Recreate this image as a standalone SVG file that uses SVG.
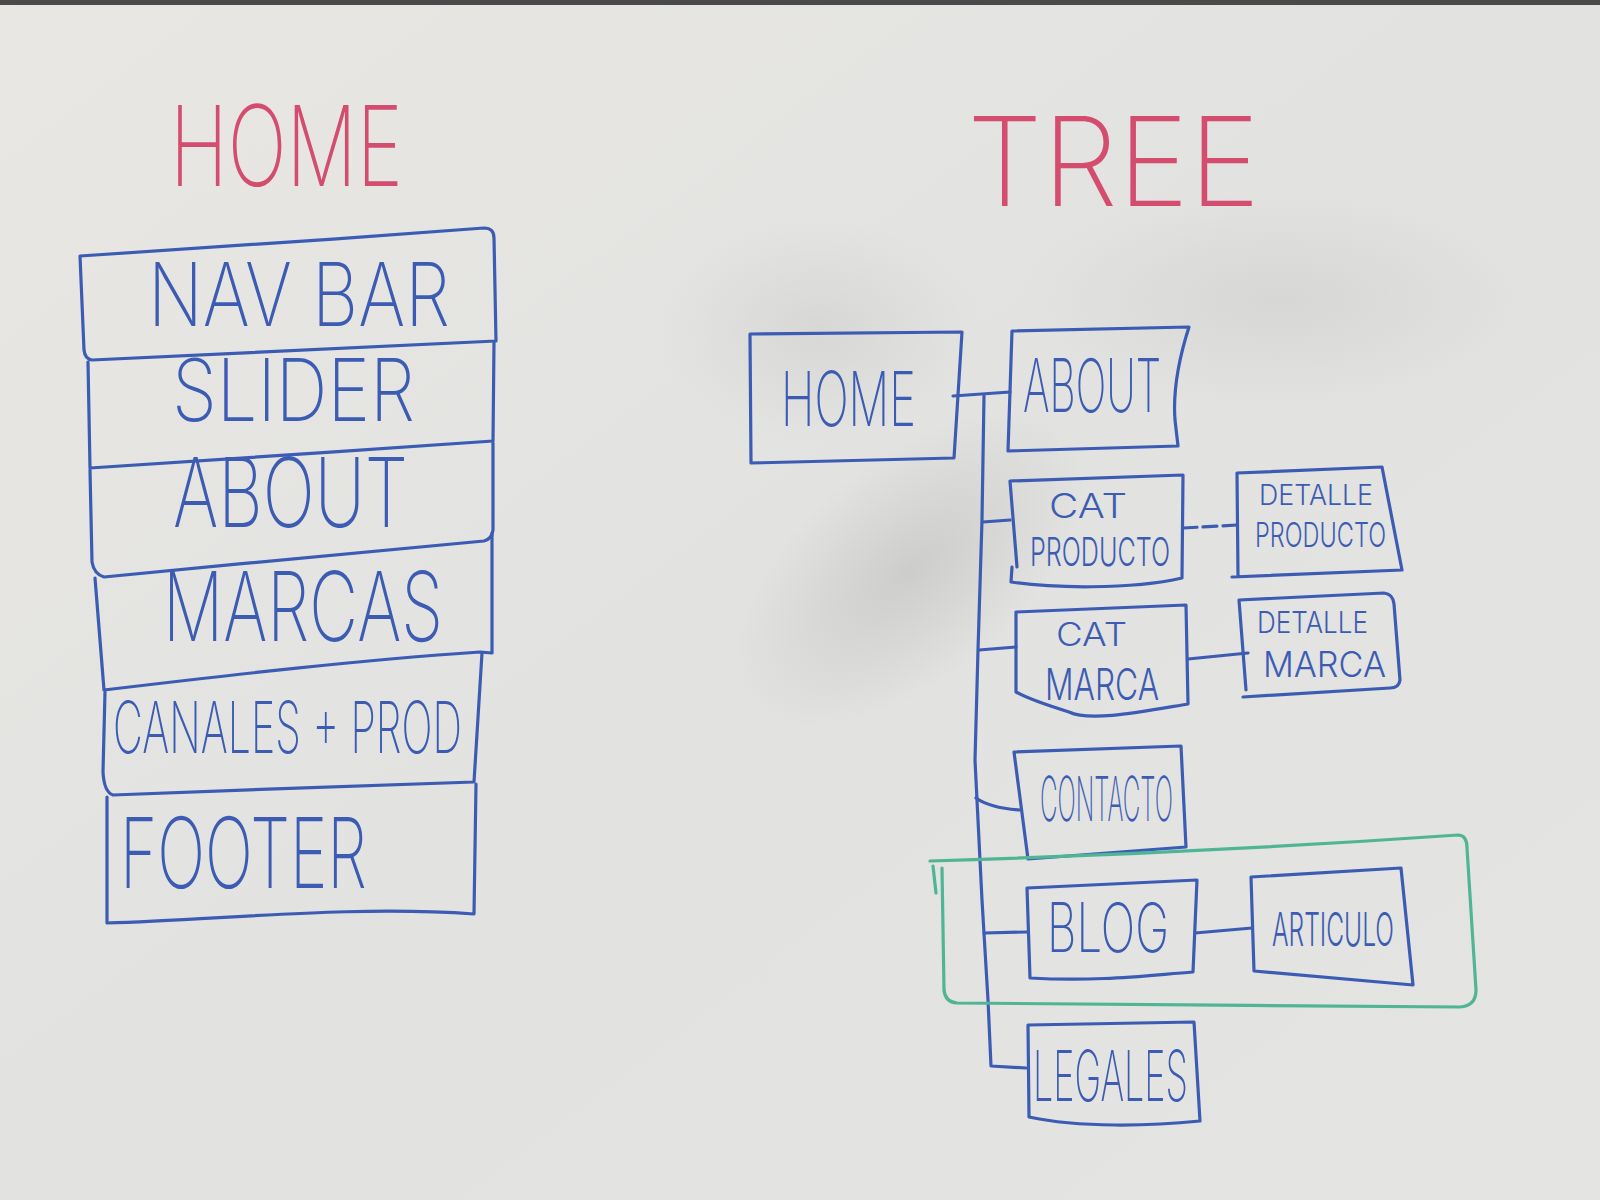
<svg xmlns="http://www.w3.org/2000/svg" width="1600" height="1200" viewBox="0 0 1600 1200">
  <defs>
    <linearGradient id="board" x1="0" y1="0" x2="1" y2="1">
      <stop offset="0" stop-color="#e8e7e4"/>
      <stop offset="0.5" stop-color="#e2e2e0"/>
      <stop offset="1" stop-color="#e4e4e2"/>
    </linearGradient>
    <radialGradient id="smudge">
      <stop offset="0" stop-color="#c9c9c8" stop-opacity="0.85"/>
      <stop offset="1" stop-color="#c9c9c8" stop-opacity="0"/>
    </radialGradient>
    <radialGradient id="smudgeLight">
      <stop offset="0" stop-color="#d3d3d2" stop-opacity="0.75"/>
      <stop offset="1" stop-color="#d3d3d2" stop-opacity="0"/>
    </radialGradient>
    <style>
      .ink { fill: none; stroke: #3c5cb4; stroke-width: 3.2; stroke-linecap: round; stroke-linejoin: round; }
      .group { fill: none; stroke: #4fb595; stroke-width: 3.2; stroke-linecap: round; stroke-linejoin: round; }
      .dash { stroke-dasharray: 14 6; }
      .hand { font-family: Inter, Lato, "Liberation Sans", sans-serif; font-weight: 200; fill: #3c5cb4; }
      .small { font-weight: 300; }
      .title { font-family: Inter, Lato, "Liberation Sans", sans-serif; font-weight: 200; fill: #d44d6e; }
    </style>
  </defs>

  <!-- whiteboard surface -->
  <rect x="0" y="0" width="1600" height="1200" fill="url(#board)"/>
  <ellipse cx="910" cy="570" rx="210" ry="110" fill="url(#smudge)" transform="rotate(-40 910 570)"/>
  <ellipse cx="1280" cy="300" rx="260" ry="110" fill="url(#smudgeLight)"/>
  <ellipse cx="820" cy="330" rx="160" ry="110" fill="url(#smudgeLight)"/>
  <rect x="0" y="0" width="1600" height="5" fill="#4a4a4a"/>

  <!-- left column: page layout -->
  <g id="home-title">
    <text class="title" x="170" y="186" font-size="112" textLength="233" lengthAdjust="spacingAndGlyphs">HOME</text>
  </g>
  <g id="navbar">
    <path class="ink" d="M80,256 C210,248 350,238 484,228 Q494,228 494,238 L496,341 L92,360 Q85,359 84,350 Z"/>
    <text class="hand" x="148" y="326" font-size="88" textLength="302" lengthAdjust="spacingAndGlyphs">NAV BAR</text>
  </g>
  <g id="slider">
    <path class="ink" d="M88,362 L90,468 C220,460 360,450 493,441 L494,342"/>
    <text class="hand" x="172" y="421" font-size="86" textLength="243" lengthAdjust="spacingAndGlyphs">SLIDER</text>
  </g>
  <g id="about-section">
    <path class="ink" d="M90,470 L92,562 Q94,574 104,577 C230,565 380,550 484,541 Q492,539 493,530 L493,443"/>
    <text class="hand" x="173" y="527" font-size="96" textLength="235" lengthAdjust="spacingAndGlyphs">ABOUT</text>
  </g>
  <g id="marcas">
    <path class="ink" d="M95,578 L104,690 C230,675 360,660 480,652 L492,653 L492,533"/>
    <text class="hand" x="163" y="641" font-size="96" textLength="280" lengthAdjust="spacingAndGlyphs">MARCAS</text>
  </g>
  <g id="canales-prod">
    <path class="ink" d="M105,692 L103,772 Q104,792 113,795 C230,790 360,786 474,782 L482,653"/>
    <text class="hand" x="113" y="753" font-size="72" textLength="349" lengthAdjust="spacingAndGlyphs">CANALES + PROD</text>
  </g>
  <g id="footer">
    <path class="ink" d="M107,797 L107,923 C220,920 350,905 474,914 L476,784"/>
    <text class="hand" x="120" y="888" font-size="98" textLength="247" lengthAdjust="spacingAndGlyphs">FOOTER</text>
  </g>

  <!-- right column: site tree -->
  <g id="tree-title">
    <text class="title" x="967" y="206" font-size="124" textLength="293" lengthAdjust="spacingAndGlyphs">TREE</text>
  </g>

  <g id="connectors">
    <path class="ink" d="M953,396 L1010,392"/>
    <path class="ink" d="M984,396 L982,520 L978,650 L975,760 L982,900 L988,1000 L991,1066 L1026,1068"/>
    <path class="ink" d="M983,522 L1010,520"/>
    <path class="ink" d="M979,650 L1016,647"/>
    <path class="ink" d="M976,798 Q990,808 1020,810"/>
    <path class="ink" d="M984,933 L1027,932"/>
    <path class="ink dash" d="M1183,528 L1237,525"/>
    <path class="ink" d="M1188,659 L1248,653"/>
    <path class="ink" d="M1195,933 L1252,928"/>
  </g>

  <g id="tree-home">
    <path class="ink" d="M750,334 L962,332 L954,458 L751,463 Z"/>
    <text class="hand" x="781" y="426" font-size="76" textLength="135" lengthAdjust="spacingAndGlyphs">HOME</text>
  </g>
  <g id="tree-about">
    <path class="ink" d="M1012,331 L1189,327 Q1172,380 1175,420 L1178,446 L1008,451 Z"/>
    <text class="hand" x="1023" y="412" font-size="74" textLength="138" lengthAdjust="spacingAndGlyphs">ABOUT</text>
  </g>
  <g id="cat-producto">
    <path class="ink" d="M1010,481 L1183,475 L1182,578 C1130,590 1050,588 1011,582 L1012,567 M1010,481 L1017,567"/>
    <text class="hand small" x="1049" y="518" font-size="34" textLength="78" lengthAdjust="spacingAndGlyphs">CAT</text>
    <text class="hand small" x="1030" y="566" font-size="40" textLength="140" lengthAdjust="spacingAndGlyphs">PRODUCTO</text>
  </g>
  <g id="detalle-producto">
    <path class="ink" d="M1237,473 L1382,467 L1402,570 L1232,577 M1237,473 L1238,575"/>
    <text class="hand small" x="1259" y="505" font-size="28" textLength="114" lengthAdjust="spacingAndGlyphs">DETALLE</text>
    <text class="hand small" x="1255" y="547" font-size="34" textLength="131" lengthAdjust="spacingAndGlyphs">PRODUCTO</text>
  </g>
  <g id="cat-marca">
    <path class="ink" d="M1016,612 L1186,605 L1188,704 C1140,712 1090,722 1069,712 Q1030,700 1016,692 Z"/>
    <text class="hand small" x="1056" y="646" font-size="32" textLength="71" lengthAdjust="spacingAndGlyphs">CAT</text>
    <text class="hand small" x="1045" y="700" font-size="44" textLength="114" lengthAdjust="spacingAndGlyphs">MARCA</text>
  </g>
  <g id="detalle-marca">
    <path class="ink" d="M1239,600 L1384,593 Q1393,594 1394,604 L1400,680 Q1399,688 1390,688 L1243,697 M1239,600 L1246,690"/>
    <text class="hand small" x="1257" y="633" font-size="30" textLength="111" lengthAdjust="spacingAndGlyphs">DETALLE</text>
    <text class="hand small" x="1263" y="677" font-size="36" textLength="123" lengthAdjust="spacingAndGlyphs">MARCA</text>
  </g>
  <g id="contacto">
    <path class="ink" d="M1014,752 L1181,746 L1186,847 L1028,859 Z"/>
    <text class="hand" x="1040" y="821" font-size="62" textLength="133" lengthAdjust="spacingAndGlyphs">CONTACTO</text>
  </g>
  <g id="blog-group">
    <path class="group" d="M930,861 C1100,856 1300,846 1458,835 Q1467,835 1467,848 L1476,990 Q1476,1006 1460,1007 C1300,1006 1100,1004 957,1003 Q945,1002 944,990 L942,868 M933,866 L936,893"/>
  </g>
  <g id="blog">
    <path class="ink" d="M1027,888 L1197,880 L1193,972 C1150,975 1100,982 1030,978 Z"/>
    <text class="hand" x="1047" y="952" font-size="68" textLength="122" lengthAdjust="spacingAndGlyphs">BLOG</text>
  </g>
  <g id="articulo">
    <path class="ink" d="M1251,877 L1401,868 L1413,985 L1254,971 Z"/>
    <text class="hand small" x="1272" y="946" font-size="46" textLength="122" lengthAdjust="spacingAndGlyphs">ARTICULO</text>
  </g>
  <g id="legales">
    <path class="ink" d="M1028,1025 L1194,1022 L1200,1121 C1150,1126 1080,1128 1029,1117 Z"/>
    <text class="hand" x="1033" y="1101" font-size="70" textLength="155" lengthAdjust="spacingAndGlyphs">LEGALES</text>
  </g>
</svg>
